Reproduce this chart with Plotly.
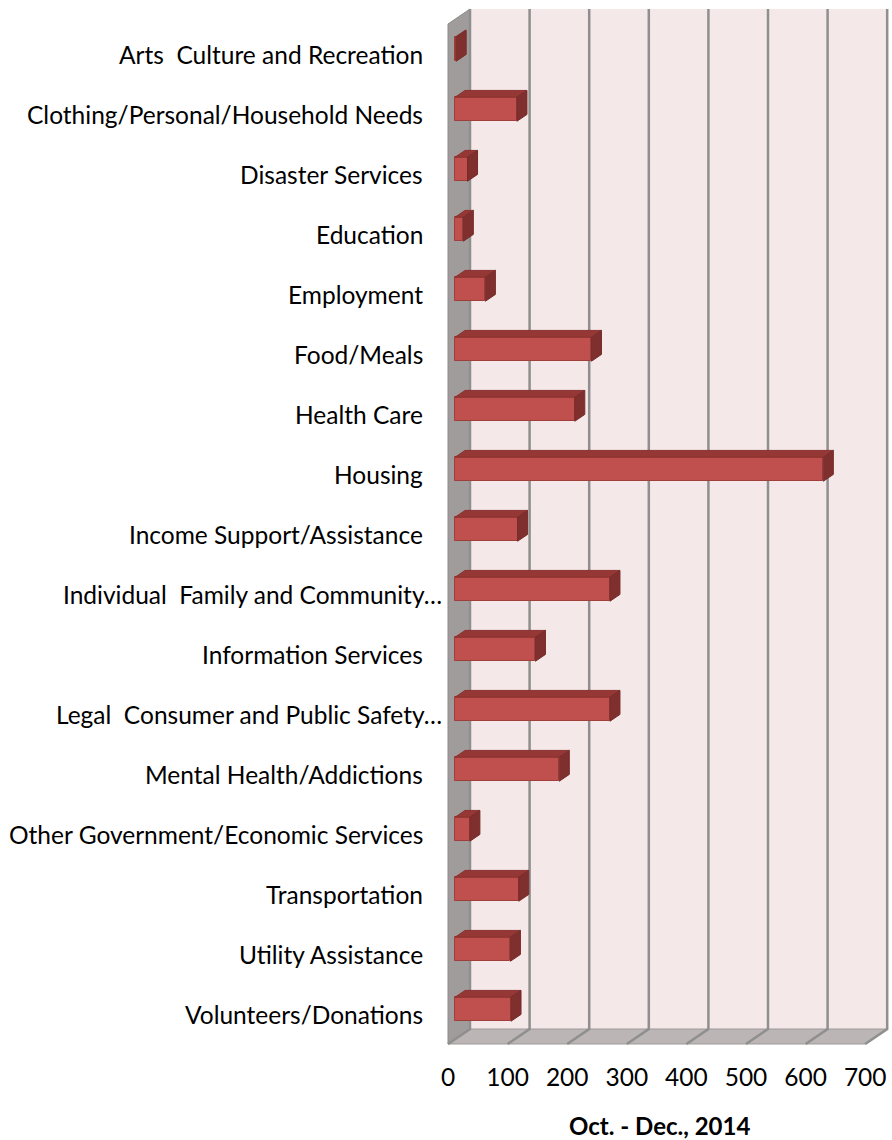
import plotly.graph_objects as go

categories = [
    "Arts  Culture and Recreation",
    "Clothing/Personal/Household Needs",
    "Disaster Services",
    "Education",
    "Employment",
    "Food/Meals",
    "Health Care",
    "Housing",
    "Income Support/Assistance",
    "Individual  Family and Community…",
    "Information Services",
    "Legal  Consumer and Public Safety…",
    "Mental Health/Addictions",
    "Other Government/Economic Services",
    "Transportation",
    "Utility Assistance",
    "Volunteers/Donations",
]
values = [2, 104, 21, 14, 51, 229, 201, 618, 105, 260, 135, 260, 175, 25, 107, 93, 94]
x_ticks = [0, 100, 200, 300, 400, 500, 600, 700]
x_title = "Oct. - Dec., 2014"

# ---- geometry (pixel-based pseudo-3D projection) ----
W, H = 892, 1140
ML, MR, MT, MB = 440, 0, 0, 85
PX0 = 448.0          # pixel x of value 0 at front depth
SX = 0.596           # px per unit
PY0 = 54.0           # pixel y of row 0 center at front depth
SY = 60.0            # px per row
DEPTH_PX = (22.0, -15.0)
DX = DEPTH_PX[0] / SX   # depth offset in x data units
DY = DEPTH_PX[1] / SY   # depth offset in y data units (rows)
XMAX = x_ticks[-1]
n = len(categories)
K_TOP, K_BOT = -0.5, n - 0.5
D_F, D_B = 7 / 22, 17 / 22   # bar front/back depth fractions
HALF = 0.2

x_range = [(ML - PX0) / SX, (W - MR - PX0) / SX]
y_range = [(H - MB - PY0) / SY, (MT - PY0) / SY]


def P(v, k, d):
    return v + DX * d, k + DY * d


def path(pts):
    return "M " + " L ".join(f"{x},{y}" for x, y in pts) + " Z"


shapes = []
# back wall
shapes.append(dict(type="path", xref="x", yref="y", layer="below",
                   path=path([P(0, K_TOP, 1), P(XMAX, K_TOP, 1), P(XMAX, K_BOT, 1), P(0, K_BOT, 1)]),
                   fillcolor="#F4E8E8", line=dict(width=0)))
# side wall
shapes.append(dict(type="path", xref="x", yref="y", layer="below",
                   path=path([P(0, K_TOP, 0), P(0, K_TOP, 1), P(0, K_BOT, 1), P(0, K_BOT, 0)]),
                   fillcolor="#A19C9C", line=dict(color="#8E8989", width=1)))
# floor
shapes.append(dict(type="path", xref="x", yref="y", layer="below",
                   path=path([P(0, K_BOT, 0), P(0, K_BOT, 1), P(XMAX, K_BOT, 1), P(XMAX, K_BOT, 0)]),
                   fillcolor="#BCB5B5", line=dict(color="#9E9999", width=1)))
# gridlines
for t in x_ticks:
    a = P(t, K_BOT, 0)
    b = P(t, K_BOT, 1)
    c = P(t, K_TOP, 1)
    shapes.append(dict(type="path", xref="x", yref="y", layer="below",
                       path=f"M {a[0]},{a[1]} L {b[0]},{b[1]} L {c[0]},{c[1]}",
                       line=dict(color="#8F8F8F", width=2.5)))

fig = go.Figure()

# front faces as bars
fig.add_trace(go.Bar(
    x=values,
    y=[k + DY * D_F for k in range(n)],
    base=DX * D_F,
    width=2 * HALF,
    orientation="h",
    marker=dict(color="#C0504D", line=dict(color="#A03E3C", width=1)),
    customdata=categories,
    hovertemplate="%{customdata}: %{x}<extra></extra>",
    showlegend=False,
))

# top faces and side faces
tx, ty, sx, sy = [], [], [], []
for k, v in enumerate(values):
    pts = [P(0, k - HALF, D_F), P(v, k - HALF, D_F), P(v, k - HALF, D_B), P(0, k - HALF, D_B), P(0, k - HALF, D_F)]
    tx += [p[0] for p in pts] + [None]
    ty += [p[1] for p in pts] + [None]
    pts = [P(v, k - HALF, D_F), P(v, k - HALF, D_B), P(v, k + HALF, D_B), P(v, k + HALF, D_F), P(v, k - HALF, D_F)]
    sx += [p[0] for p in pts] + [None]
    sy += [p[1] for p in pts] + [None]

fig.add_trace(go.Scatter(x=tx, y=ty, mode="lines", fill="toself", fillcolor="#953735",
                         line=dict(color="#8A3230", width=1), hoverinfo="skip", showlegend=False))
fig.add_trace(go.Scatter(x=sx, y=sy, mode="lines", fill="toself", fillcolor="#7F2F2D",
                         line=dict(color="#782C2A", width=1), hoverinfo="skip", showlegend=False))

FONT = "Lato"
annotations = []
for k, c in enumerate(categories):
    annotations.append(dict(x=0, xref="paper", y=k, yref="y", text=c, showarrow=False,
                            xanchor="right", yanchor="middle",
                            xshift=(4 if c.endswith("…") else -15),
                            font=dict(family=FONT, size=24.5, color="#000000")))
annotations.append(dict(x=(659 - ML) / (W - ML - MR), xref="paper", y=0, yref="paper",
                        yshift=-(1125 - (H - MB)), text="<b>" + x_title + "</b>", showarrow=False,
                        xanchor="center", yanchor="middle",
                        font=dict(family=FONT, size=24, color="#000000")))

fig.update_layout(
    width=W, height=H,
    margin=dict(l=ML, r=MR, t=MT, b=MB),
    paper_bgcolor="white", plot_bgcolor="white",
    shapes=shapes, annotations=annotations,
    xaxis=dict(range=x_range, tickvals=x_ticks, ticktext=[str(t) for t in x_ticks],
               showgrid=False, zeroline=False, showline=False, ticks="",
               tickfont=dict(family=FONT, size=24.5, color="#000000"), ticklabelstandoff=5,
               fixedrange=True),
    yaxis=dict(range=y_range, showticklabels=False, showgrid=False, zeroline=False,
               showline=False, ticks="", fixedrange=True),
    bargap=0,
)

fig.write_html("out.html", config={"displayModeBar": False},
               post_script="document.body.style.margin='0';document.body.style.padding='0';"
                           "document.documentElement.style.overflow='hidden';")
